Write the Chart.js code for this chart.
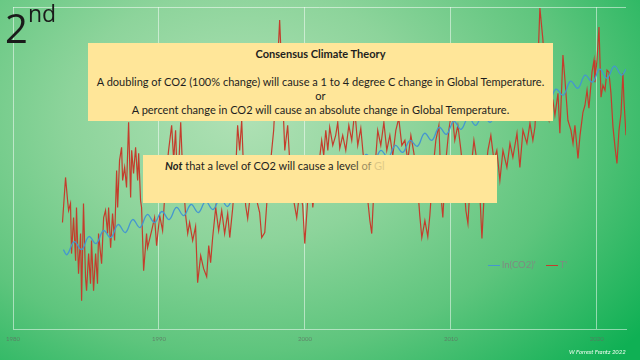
<!DOCTYPE html>
<html>
<head>
<meta charset="utf-8">
<script src="https://cdn.jsdelivr.net/npm/chart.js@4.4.1/dist/chart.umd.min.js"></script>
<style>
  html, body { margin: 0; padding: 0; }
  body {
    width: 640px; height: 360px; overflow: hidden; position: relative;
    background: radial-gradient(ellipse 78% 100% at 38% 32%, #b0e1b5 0%, #8dd49b 35%, #5ec57d 66%, #0fb054 100%);
    font-family: Lato, "Open Sans", sans-serif;
  }
  #chart { position: absolute; left: 0; top: 0; }
  .box { position: absolute; background: #ffe699; color: #1e1e1e; }
  .box .t { white-space: nowrap; }
  #box1 { left: 88px; top: 43px; width: 465px; height: 78px; text-align: center; line-height: 14px; }
  #box1 .t { position: absolute; left: 0; right: 0; }
  #box2 { left: 143px; top: 155px; width: 354px; height: 48px; }
  #box2 .t { position: absolute; left: 22px; top: 4px; }
  #big { position: absolute; left: 5px; top: 6px; font-family: "Open Sans", sans-serif; font-size: 40px; color: #1a1a1a; line-height: 44px; }
  #big sup { font-size: 23px; position: relative; top: -4px; vertical-align: top; line-height: 23px; }
  #legend { position: absolute; left: 488px; top: 259px; font-size: 9.5px; color: #7f8a81; white-space: nowrap; }
  #legend span.sw { display: inline-block; width: 12px; height: 0; border-top: 1.3px solid; vertical-align: middle; margin-right: 2px; }
  #legend span.it { margin-right: 10px; }
  #foot { position: absolute; left: 569px; top: 348px; font-size: 6px; font-style: italic; color: #f4fff4; white-space: nowrap; }
</style>
</head>
<body>
<canvas id="chart" width="640" height="360"></canvas>

<div id="big">2<sup>nd</sup></div>

<div class="box" id="box1">
  <div class="t" style="top:4px;font-weight:bold">Consensus Climate Theory</div>
  <div class="t" id="longLine" style="top:32px">A doubling of CO2 (100% change) will cause a 1 to 4 degree C change in Global Temperature.</div>
  <div class="t" style="top:46px">or</div>
  <div class="t" style="top:60px">A percent change in CO2 will cause an absolute change in Global Temperature.</div>
</div>

<div class="box" id="box2">
  <div class="t"><b><i>Not</i></b> that a level of CO2 will cause a lev<span style="opacity:.8">el </span><span style="opacity:.45">of </span><span style="opacity:.15">Gl</span></div>
</div>

<div id="legend"></div>
<div id="foot">W Forrest Frantz 2022</div>

<script>
// T' (red)
const tempYears = [
  1983.39, 1983.60, 1983.74, 1983.81, 1983.94, 1984.01, 1984.15, 1984.29, 1984.35, 1984.49,
  1984.63, 1984.70, 1984.83, 1984.97, 1985.04, 1985.18, 1985.31, 1985.38, 1985.52, 1985.66,
  1985.79, 1985.86, 1986.07, 1986.21, 1986.34, 1986.48, 1986.55, 1986.69, 1986.82, 1986.96,
  1987.10, 1987.17, 1987.30, 1987.44, 1987.51, 1987.65, 1987.78, 1987.92, 1988.06, 1988.13,
  1988.26, 1988.40, 1988.54, 1988.61, 1988.74, 1988.81, 1988.95, 1989.15, 1989.22, 1989.50,
  1989.70, 1989.84, 1990.05, 1990.25, 1990.46, 1990.66, 1990.87, 1991.01, 1991.14, 1991.28,
  1991.49, 1991.62, 1991.83, 1991.97, 1992.10, 1992.31, 1992.51, 1992.65, 1992.86, 1993.06,
  1993.27, 1993.41, 1993.54, 1993.68, 1993.89, 1994.09, 1994.30, 1994.50, 1994.71, 1994.85,
  1995.05, 1995.26, 1995.39, 1995.53, 1995.67, 1995.81, 1995.94, 1996.08, 1996.29, 1996.49,
  1996.70, 1996.90, 1997.04, 1997.25, 1997.45, 1997.66, 1997.86, 1998.00, 1998.14, 1998.27,
  1998.41, 1998.62, 1998.82, 1999.03, 1999.23, 1999.44, 1999.65, 1999.85, 1999.99, 2000.19,
  2000.40, 2000.54, 2000.74, 2000.95, 2001.15, 2001.29, 2001.43, 2001.57, 2001.70, 2001.91,
  2002.11, 2002.25, 2002.39, 2002.59, 2002.80, 2003.01, 2003.21, 2003.42, 2003.62, 2003.83,
  2004.03, 2004.24, 2004.45, 2004.58, 2004.79, 2004.99, 2005.20, 2005.41, 2005.61, 2005.82,
  2006.02, 2006.23, 2006.43, 2006.64, 2006.85, 2007.05, 2007.26, 2007.46, 2007.67, 2007.87,
  2008.01, 2008.22, 2008.42, 2008.56, 2008.77, 2008.97, 2009.18, 2009.38, 2009.45, 2009.66,
  2009.86, 2010.07, 2010.27, 2010.48, 2010.69, 2010.89, 2011.03, 2011.17, 2011.37, 2011.58,
  2011.78, 2011.99, 2012.13, 2012.33, 2012.54, 2012.74, 2012.95, 2013.15, 2013.36, 2013.57,
  2013.84, 2014.05, 2014.25, 2014.53, 2014.73, 2014.94, 2015.21, 2015.42, 2015.62, 2015.76,
  2015.90, 2016.10, 2016.31, 2016.51, 2016.72, 2016.86, 2016.99, 2017.13, 2017.34, 2017.47,
  2017.68, 2017.82, 2018.02, 2018.23, 2018.37, 2018.50, 2018.71, 2018.85, 2019.05, 2019.19,
  2019.33, 2019.46, 2019.67, 2019.81, 2019.87, 2020.01, 2020.15, 2020.29, 2020.42, 2020.56,
  2020.70, 2020.83, 2020.97, 2021.11, 2021.25, 2021.38, 2021.52, 2021.66, 2021.79, 2021.86,
  2022.00
];
const tempVals = [
  -0.54, -0.09, -0.32, -0.42, -0.35, -0.85, -0.49, -0.92, -0.39, -1.05,
  -0.65, -1.32, -0.35, -1.09, -1.22, -0.85, -1.15, -0.72, -1.22, -0.85,
  -1.15, -0.65, -0.95, -0.49, -0.42, -0.65, -0.39, -0.79, -0.45, -0.72,
  -0.02, -0.39, 0.08, 0.21, -0.12, 0.01, -0.19, 0.46, -0.29, 0.18,
  -0.05, 0.21, -0.12, 0.15, -0.32, -0.39, -1.02, -0.65, -0.79, -0.62,
  -0.49, -0.77, -0.47, -0.62, -0.12, 0.18, 0.43, 0.08, 0.38, -0.22,
  0.46, -0.02, -0.47, -0.65, -0.54, -0.72, -0.58, -1.14, -0.87, -1.00,
  -1.08, -0.77, -0.94, -0.69, -0.39, -0.62, -0.42, -0.65, -0.45, -0.69,
  -0.40, -0.02, 0.43, 0.18, 0.48, -0.07, -0.37, -0.50, -0.22, -0.02,
  -0.32, -0.44, -0.69, -0.64, -0.22, 0.08, 0.38, 0.78, 1.08, 1.48,
  0.98, 0.18, 0.43, -0.12, -0.32, -0.49, -0.22, -0.37, -0.75, -0.32,
  -0.07, -0.39, -0.12, 0.03, 0.28, 0.13, 0.38, 0.18, 0.41, 0.23,
  0.33, 0.46, 0.20, 0.33, 0.18, 0.43, 0.28, 0.58, 0.23, 0.40,
  0.08, -0.22, -0.52, -0.65, -0.02, 0.38, 0.23, 0.46, 0.18, 0.33,
  0.13, 0.38, 0.50, 0.23, 0.28, 0.08, 0.33, 0.16, -0.07, -0.47,
  -0.69, -0.52, -0.68, -0.47, -0.02, 0.28, 0.43, -0.37, -0.49, 0.08,
  0.38, 0.58, 0.28, 0.43, 0.18, -0.12, -0.42, -0.55, -0.02, 0.28,
  0.08, -0.27, -0.70, -0.12, 0.18, 0.33, 0.08, 0.18, -0.12, 0.18,
  0.01, 0.25, 0.11, 0.35, 0.01, 0.38, 0.25, 0.45, 0.28, 0.41,
  0.78, 1.60, 1.28, 0.58, 0.48, 0.73, 0.68, 0.53, 0.75, 0.35,
  1.13, 0.88, 0.48, 0.38, 0.25, 0.43, 0.10, 0.33, 0.56, 0.63,
  0.78, 0.60, 0.96, 1.08, 0.86, 1.08, 1.41, 0.71, 0.83, 0.78,
  0.98, 0.96, 0.75, 0.41, 0.21, 0.05, 0.38, 0.55, 0.95, 0.68,
  0.33
];

// ln(CO2)' (blue)
const co2Years = [
  1983.45, 1983.7, 1984.2, 1984.7, 1985.2, 1985.7, 1986.2, 1986.7, 1987.2, 1987.7,
  1988.2, 1988.7, 1989.2, 1989.7, 1990.2, 1990.7, 1991.2, 1991.7, 1992.2, 1992.7,
  1993.2, 1993.7, 1994.2, 1994.7, 1995.2, 1995.7, 1996.2, 1996.7, 1997.2, 1997.7,
  1998.2, 1998.7, 1999.2, 1999.7, 2000.2, 2000.7, 2001.2, 2001.7, 2002.2, 2002.7,
  2003.2, 2003.7, 2004.2, 2004.7, 2005.2, 2005.7, 2006.2, 2006.7, 2007.2, 2007.7,
  2008.2, 2008.7, 2009.2, 2009.7, 2010.2, 2010.7, 2011.2, 2011.7, 2012.2, 2012.7,
  2013.2, 2013.7, 2014.2, 2014.7, 2015.2, 2015.7, 2016.2, 2016.7, 2017.2, 2017.7,
  2018.2, 2018.7, 2019.2, 2019.7, 2020.2, 2020.7, 2021.2, 2021.7, 2022.0
];
const co2Vals = [
  -0.81, -0.86, -0.73, -0.81, -0.68, -0.75, -0.62, -0.69, -0.56, -0.64,
  -0.51, -0.59, -0.46, -0.54, -0.43, -0.51, -0.39, -0.47, -0.36, -0.44,
  -0.33, -0.41, -0.30, -0.38, -0.26, -0.34, -0.21, -0.29, -0.16, -0.24,
  -0.11, -0.19, -0.06, -0.14, -0.02, -0.10, 0.02, -0.06, 0.06, -0.01,
  0.11, 0.02, 0.14, 0.06, 0.18, 0.11, 0.23, 0.16, 0.28, 0.22,
  0.35, 0.28, 0.41, 0.34, 0.47, 0.39, 0.51, 0.43, 0.54, 0.46,
  0.58, 0.51, 0.63, 0.56, 0.68, 0.61, 0.74, 0.66, 0.79, 0.73,
  0.87, 0.80, 0.93, 0.86, 0.99, 0.90, 1.02, 0.93, 0.99
];

const xTicks = [1980, 1990, 2000, 2010, 2020];
const seriesLabels = ["ln(CO2)'", "T'"];
const seriesColors = ["#4597cf", "#c43d2c"];

const yMin = -1.61, yMax = 1.61;
const gridColor = "rgba(255,255,255,0.5)";

const toPoints = (xs, ys) => xs.map((x, i) => ({ x: x, y: ys[i] }));

// size the box text so the long line spans ~449px like the slide
const longLine = document.getElementById("longLine");
const probe = document.createElement("canvas").getContext("2d");
probe.font = "100px Lato";
const boxFont = Math.min(12, (449 / probe.measureText(longLine.textContent).width) * 100);
document.querySelectorAll(".box").forEach((b) => (b.style.fontSize = boxFont + "px"));

const chart = new Chart(document.getElementById("chart"), {
  type: "line",
  data: {
    datasets: [
      {
        label: seriesLabels[0],
        data: toPoints(co2Years, co2Vals),
        borderColor: seriesColors[0],
        borderWidth: 1.3,
        pointRadius: 0,
        tension: 0.4
      },
      {
        label: seriesLabels[1],
        data: toPoints(tempYears, tempVals),
        borderColor: seriesColors[1],
        borderWidth: 1.2,
        pointRadius: 0,
        tension: 0
      }
    ]
  },
  options: {
    responsive: false,
    animation: false,
    layout: { padding: { left: 13, right: 14, top: 7, bottom: 11 } },
    plugins: { legend: { display: false }, tooltip: { enabled: false } },
    scales: {
      x: {
        type: "linear",
        min: 1980,
        max: 2022,
        afterBuildTicks: (axis) => {
          axis.ticks = xTicks.map((v) => ({ value: v }));
        },
        ticks: {
          font: { size: 6, family: "Lato" },
          color: "rgba(95,110,98,0.75)",
          padding: 6,
          maxRotation: 0,
          callback: (v) => String(v)
        },
        grid: { color: gridColor, lineWidth: 1, drawTicks: false },
        border: { color: gridColor }
      },
      y: {
        min: yMin,
        max: yMax,
        ticks: { display: false },
        grid: {
          drawTicks: false,
          color: (c) => (c.tick && c.tick.value === yMax ? gridColor : "transparent")
        },
        border: { display: false }
      }
    }
  }
});

// legend
const legend = document.getElementById("legend");
legend.innerHTML = chart.data.datasets
  .map((d) => `<span class="sw" style="border-color:${d.borderColor}"></span><span class="it">${d.label}</span>`)
  .join("");
</script>
</body>
</html>
